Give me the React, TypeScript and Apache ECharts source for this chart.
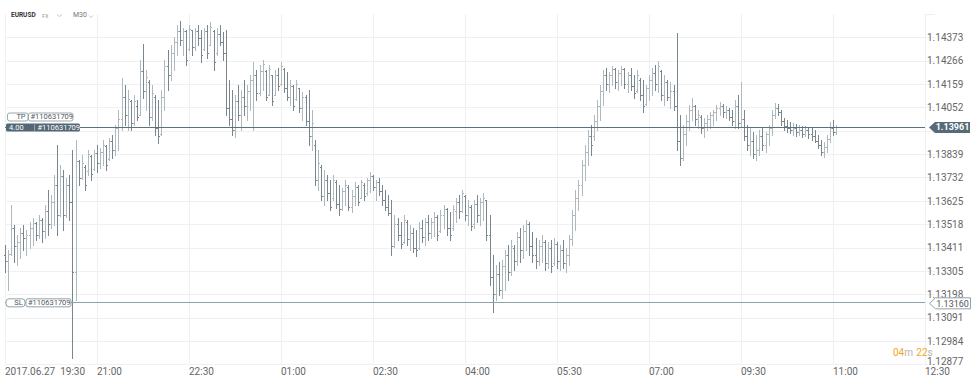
import React, { useEffect, useRef } from 'react';
import * as echarts from 'echarts';

const SYMBOL = 'EURUSD';
const MARKET = 'FX';
const PERIOD = 'M30';
const xTickLabels = ['2017.06.27  19:30', '21:00', '22:30', '01:00', '02:30', '04:00', '05:30', '07:00', '09:30', '11:00', '12:30'];
const BARS_PER_TICK = 30;
const yTickLabels = ['1.12877', '1.12984', '1.13091', '1.13198', '1.13305', '1.13411', '1.13518', '1.13625', '1.13732', '1.13839', '1.13945', '1.14052', '1.14159', '1.14266', '1.14373'];
const Y_BASE = 1.128774;
const Y_STEP = 0.00106805;

const opens = [
  1.1338,1.1335,1.13385,1.135,1.1342,1.1344,1.1348,1.13455,1.1347,1.135,
  1.13525,1.1347,1.1354,1.1349,1.1358,1.1352,1.1362,1.137,1.1356,1.1374,
  1.1356,1.137,1.1362,1.133,1.1381,1.1373,1.1378,1.1376,1.1383,1.1377,
  1.13845,1.138,1.1385,1.13875,1.13815,1.139,1.1386,1.1396,1.14,1.141,
  1.1402,1.1408,1.1398,1.1406,1.1402,1.1422,1.1413,1.1417,1.1401,1.141,
  1.1396,1.1393,1.141,1.1424,1.142,1.143,1.1435,1.144,1.1436,1.144,
  1.1432,1.14405,1.1433,1.144,1.1437,1.1432,1.144,1.1434,1.144,1.143,
  1.1439,1.1435,1.143,1.1405,1.14,1.1395,1.1408,1.1402,1.141,1.1406,
  1.1413,1.1418,1.142,1.1412,1.1422,1.1422,1.1411,1.142,1.1411,1.142,
  1.1416,1.1423,1.1414,1.141,1.1415,1.1409,1.1414,1.1405,1.141,1.1399,
  1.1392,1.1388,1.1372,1.1378,1.1365,1.1372,1.1366,1.1364,1.1371,1.1361,
  1.1359,1.1367,1.1369,1.136,1.1365,1.1369,1.1364,1.137,1.1366,1.1372,
  1.1374,1.1369,1.1371,1.1367,1.1363,1.136,1.1357,1.1342,1.1352,1.1347,
  1.1344,1.1353,1.1345,1.1348,1.1341,1.1341,1.135,1.1346,1.1353,1.1348,
  1.1353,1.1355,1.1349,1.1356,1.1359,1.135,1.135,1.1358,1.1362,1.1358,
  1.1365,1.1356,1.136,1.1352,1.1361,1.1356,1.1362,1.1363,1.1347,1.1328,
  1.132,1.1329,1.1322,1.1333,1.1338,1.133,1.1341,1.1335,1.1346,1.134,
  1.1349,1.1352,1.1342,1.1338,1.1335,1.1342,1.1344,1.1334,1.1341,1.1334,
  1.1343,1.1335,1.134,1.1334,1.1338,1.1345,1.1356,1.1364,1.137,1.1379,
  1.1385,1.1392,1.1392,1.1399,1.1406,1.1413,1.142,1.1416,1.142,1.1423,
  1.1417,1.1421,1.1423,1.1416,1.142,1.1415,1.1413,1.1418,1.1411,1.1407,
  1.1414,1.1418,1.1421,1.1416,1.1422,1.1411,1.1417,1.141,1.1413,1.1406,
  1.139,1.1382,1.1393,1.1399,1.1404,1.1406,1.14,1.1401,1.1396,1.1398,
  1.14,1.1402,1.1403,1.1405,1.1406,1.1403,1.1404,1.1401,1.1399,1.1406,
  1.1398,1.14,1.1392,1.1388,1.139,1.1384,1.1386,1.1392,1.1388,1.1393,
  1.1396,1.1402,1.1405,1.1403,1.1399,1.1397,1.1396,1.1395,1.1396,1.1394,
  1.1395,1.1393,1.1395,1.1393,1.1392,1.139,1.1388,1.1385,1.1387,1.1391,
  1.1396,1.1394,
];

const highs = [
  1.13424,1.13401,1.13607,1.13516,1.1347,1.13502,1.13516,1.13493,1.13529,1.13547,
  1.13529,1.13561,1.13547,1.13607,1.13676,1.13653,1.13744,1.13881,1.13789,1.13767,
  1.1373,1.13744,1.13858,1.13904,1.13812,1.13835,1.13789,1.13858,1.13835,1.13858,
  1.13881,1.13867,1.13904,1.13881,1.13913,1.13926,1.13972,1.14041,1.14187,1.14155,
  1.14132,1.14086,1.14109,1.14086,1.14269,1.14342,1.14223,1.14178,1.14155,1.14109,
  1.14086,1.14132,1.14269,1.14315,1.14338,1.14374,1.14429,1.14447,1.14415,1.14406,
  1.14429,1.14406,1.14415,1.14429,1.14406,1.14415,1.14429,1.14443,1.14406,1.14415,
  1.14429,1.14397,1.14406,1.14178,1.14132,1.14109,1.14155,1.14132,1.14178,1.14155,
  1.14201,1.1426,1.14223,1.14246,1.14269,1.14223,1.14246,1.14201,1.14223,1.14232,
  1.1426,1.14232,1.14214,1.14178,1.14155,1.14178,1.14141,1.14123,1.14109,1.14132,
  1.14041,1.13904,1.13858,1.13789,1.13767,1.13744,1.13721,1.13744,1.13721,1.13698,
  1.13685,1.13721,1.13698,1.13676,1.13712,1.13698,1.13721,1.13707,1.1373,1.13758,
  1.13744,1.13721,1.1373,1.13698,1.13676,1.13653,1.1363,1.13561,1.13547,1.13529,
  1.13561,1.13538,1.13516,1.13502,1.13493,1.13529,1.13538,1.13547,1.13561,1.13547,
  1.13575,1.13561,1.13584,1.13607,1.13593,1.13575,1.13607,1.13639,1.13653,1.13676,
  1.13653,1.1363,1.13607,1.1363,1.13653,1.13639,1.13662,1.1363,1.13561,1.13379,
  1.13333,1.13347,1.13356,1.13401,1.13424,1.13447,1.13424,1.13484,1.13502,1.13516,
  1.13538,1.13529,1.13484,1.13456,1.13447,1.1347,1.13447,1.13438,1.13447,1.13456,
  1.13438,1.13424,1.13447,1.1341,1.1347,1.13584,1.13676,1.13721,1.13812,1.13881,
  1.13949,1.13972,1.14018,1.14086,1.14155,1.14223,1.14232,1.14214,1.14241,1.14232,
  1.14223,1.14241,1.14232,1.14214,1.14232,1.14201,1.14223,1.14187,1.14178,1.14155,
  1.14201,1.14232,1.14246,1.14264,1.14223,1.14201,1.14178,1.14169,1.14155,1.14393,
  1.14018,1.13972,1.14018,1.14064,1.14095,1.14064,1.14041,1.14018,1.14004,1.14018,
  1.14032,1.14041,1.14064,1.14077,1.14068,1.14059,1.1405,1.14041,1.14086,1.14109,
  1.14169,1.14041,1.13972,1.13958,1.1394,1.13926,1.13949,1.13958,1.1394,1.13972,
  1.14041,1.14073,1.14068,1.14041,1.14004,1.13995,1.13986,1.13981,1.13976,1.13972,
  1.13967,1.13967,1.13963,1.13958,1.13949,1.13926,1.13904,1.13894,1.13926,1.13986,
  1.13995,1.13972,
];

const lows = [
  1.13301,1.13219,1.13379,1.13347,1.13333,1.13365,1.13401,1.13379,1.1341,1.13424,
  1.13447,1.13456,1.13438,1.13456,1.1347,1.13502,1.13516,1.1347,1.13555,1.13493,
  1.1355,1.13538,1.12908,1.13173,1.13698,1.13725,1.13676,1.13744,1.13721,1.13767,
  1.13758,1.13776,1.13789,1.13767,1.13812,1.13821,1.13835,1.13858,1.13949,1.13972,
  1.13949,1.13949,1.13972,1.13995,1.14018,1.14095,1.14041,1.13972,1.13995,1.13926,
  1.1389,1.13926,1.14041,1.14132,1.14178,1.14223,1.14292,1.14338,1.14292,1.14246,
  1.14315,1.14292,1.14315,1.14338,1.1426,1.14315,1.14278,1.14338,1.14223,1.14292,
  1.14338,1.14269,1.14018,1.13972,1.13926,1.13917,1.13995,1.13949,1.14018,1.13995,
  1.14041,1.13949,1.14086,1.14109,1.14132,1.14086,1.14109,1.14064,1.14109,1.14132,
  1.14155,1.14123,1.14086,1.14064,1.14041,1.14086,1.14032,1.13995,1.13972,1.13881,
  1.13858,1.13698,1.13676,1.1363,1.13607,1.1363,1.13584,1.1363,1.13593,1.13561,
  1.13584,1.13607,1.13584,1.13575,1.13607,1.13607,1.13639,1.1363,1.13653,1.13667,
  1.13676,1.1363,1.13653,1.13607,1.13584,1.13561,1.13379,1.13415,1.13447,1.1341,
  1.13435,1.13424,1.13401,1.13392,1.13374,1.13405,1.13438,1.13424,1.13447,1.13456,
  1.13465,1.13447,1.13484,1.13502,1.1347,1.13447,1.13493,1.13529,1.13547,1.13575,
  1.13538,1.13516,1.13493,1.13502,1.13529,1.13516,1.13538,1.13447,1.13242,1.13118,
  1.13173,1.13196,1.13182,1.13219,1.13264,1.13287,1.1331,1.13333,1.13347,1.13365,
  1.13401,1.13379,1.13347,1.13319,1.13333,1.13347,1.1331,1.13319,1.13301,1.13335,
  1.13319,1.1331,1.13319,1.13301,1.13333,1.13424,1.13493,1.13584,1.13653,1.13721,
  1.13789,1.13835,1.13904,1.13949,1.13995,1.14064,1.14132,1.14123,1.14155,1.14141,
  1.14132,1.14155,1.14141,1.14123,1.14132,1.14095,1.14123,1.14086,1.14032,1.14064,
  1.14086,1.14109,1.14132,1.14123,1.14086,1.14064,1.14086,1.1405,1.14041,1.13858,
  1.13789,1.13812,1.13881,1.13949,1.13995,1.13972,1.13958,1.13935,1.13917,1.13949,
  1.13958,1.13972,1.13995,1.14018,1.14009,1.14004,1.13995,1.13972,1.13958,1.13958,
  1.13963,1.13904,1.13858,1.13835,1.13821,1.13812,1.13835,1.13858,1.13849,1.13881,
  1.13926,1.14004,1.14018,1.13972,1.13949,1.1394,1.13935,1.13926,1.13922,1.13926,
  1.13917,1.13922,1.13913,1.13904,1.13894,1.13867,1.13835,1.13826,1.13849,1.13894,
  1.13926,1.1393,
];

const closes = [
  1.1335,1.13385,1.135,1.1342,1.1344,1.1348,1.13455,1.1347,1.135,1.13525,
  1.1347,1.1354,1.1349,1.1358,1.1352,1.1362,1.137,1.1356,1.1374,1.1356,
  1.137,1.1362,1.133,1.1381,1.1373,1.138,1.137,1.1384,1.1375,1.13845,
  1.138,1.1385,1.1388,1.1379,1.139,1.1386,1.1396,1.14,1.141,1.1402,
  1.1409,1.1398,1.1408,1.1401,1.1422,1.1413,1.1419,1.1401,1.1412,1.1396,
  1.1392,1.141,1.1424,1.142,1.143,1.1435,1.144,1.1436,1.144,1.1427,
  1.1441,1.1433,1.144,1.1437,1.1429,1.144,1.143,1.1442,1.1426,1.1439,
  1.1435,1.143,1.1405,1.14,1.1395,1.1408,1.1402,1.141,1.1406,1.1413,
  1.1418,1.142,1.1412,1.1422,1.1425,1.141,1.1423,1.1408,1.142,1.1415,
  1.1424,1.1414,1.141,1.1415,1.1406,1.1416,1.1405,1.141,1.1399,1.1392,
  1.1398,1.1372,1.138,1.1365,1.1372,1.1366,1.136,1.1372,1.1361,1.1359,
  1.1367,1.137,1.136,1.1365,1.1369,1.1362,1.1371,1.1365,1.1372,1.1374,
  1.1369,1.1371,1.1367,1.1363,1.136,1.1357,1.1342,1.1352,1.1347,1.1343,
  1.1354,1.1345,1.1348,1.1341,1.134,1.135,1.1346,1.1353,1.1348,1.1353,
  1.1355,1.1347,1.1356,1.1359,1.135,1.1347,1.1359,1.1362,1.1358,1.1366,
  1.1356,1.136,1.1351,1.1361,1.1356,1.1362,1.1364,1.1347,1.1328,1.132,
  1.1329,1.1322,1.1333,1.1338,1.133,1.1342,1.1335,1.1346,1.134,1.1349,
  1.1352,1.1342,1.1338,1.1335,1.1342,1.1344,1.1334,1.1341,1.1333,1.1343,
  1.1335,1.134,1.1334,1.1338,1.1345,1.1356,1.1364,1.137,1.1379,1.1385,
  1.1392,1.1388,1.1399,1.1406,1.1413,1.142,1.1416,1.142,1.1423,1.1417,
  1.1421,1.1423,1.1416,1.142,1.1415,1.1412,1.142,1.1411,1.1406,1.1414,
  1.1418,1.1421,1.1416,1.1424,1.1411,1.1417,1.141,1.1413,1.1406,1.139,
  1.1382,1.1393,1.1399,1.1404,1.1406,1.14,1.1402,1.1396,1.1398,1.14,
  1.1402,1.1403,1.1405,1.1406,1.1403,1.1404,1.1401,1.1399,1.1406,1.1398,
  1.14,1.1392,1.1388,1.139,1.1384,1.1386,1.1392,1.1388,1.1393,1.1396,
  1.1402,1.1405,1.1403,1.1399,1.1397,1.1396,1.1395,1.1396,1.1394,1.1395,
  1.1393,1.1395,1.1393,1.1392,1.139,1.1388,1.1385,1.1387,1.1391,1.1396,
  1.1394,1.13961,
];

const positionPrice = 1.13961;
const positionVolume = '4.00';
const orderId = '#110631709';
const slPrice = 1.1316;
const countdownParts = ['04', 'm', '22', 's'];

const UP_COLOR = '#b0b9be';
const DOWN_COLOR = '#7a868d';
const GRID_COLOR = '#eef0f2';
const FONT = 'Roboto, "Noto Sans", sans-serif';

const toU = (p: number) => (p - Y_BASE) / Y_STEP;

const categories: string[] = [];
for (let i = 0; i <= (xTickLabels.length - 1) * BARS_PER_TICK; i++) {
  categories.push(i % BARS_PER_TICK === 0 ? xTickLabels[i / BARS_PER_TICK] : '');
}

const barData = opens.map((o, i) => [i, toU(o), toU(highs[i]), toU(lows[i]), toU(closes[i])]);

const renderItem = (_params: any, api: any) => {
  const i = api.value(0);
  const o = api.value(1);
  const h = api.value(2);
  const l = api.value(3);
  const c = api.value(4);
  const pH = api.coord([i, h]);
  const pL = api.coord([i, l]);
  const pO = api.coord([i, o]);
  const pC = api.coord([i, c]);
  const x = Math.round(pH[0]) + 0.5;
  const color = c >= o ? UP_COLOR : DOWN_COLOR;
  const yo = Math.round(pO[1]) + 0.5;
  const yc = Math.round(pC[1]) + 0.5;
  return {
    type: 'group',
    children: [
      { type: 'line', shape: { x1: x, y1: Math.round(pH[1]), x2: x, y2: Math.round(pL[1]) + 1 }, style: { stroke: color, lineWidth: 1 } },
      { type: 'line', shape: { x1: x - 1.5, y1: yo, x2: x - 0.5, y2: yo }, style: { stroke: color, lineWidth: 1 } },
      { type: 'line', shape: { x1: x + 0.5, y1: yc, x2: x + 1.5, y2: yc }, style: { stroke: color, lineWidth: 1 } },
    ],
  };
};

export default function App() {
  const ref = useRef<HTMLDivElement>(null);

  useEffect(() => {
    if (!ref.current) return;
    const chart = echarts.init(ref.current, null, { renderer: 'svg' });
    const splitColors = yTickLabels.map(() => GRID_COLOR).concat(['rgba(0,0,0,0)']);
    const currentU = toU(closes[closes.length - 1]);
    chart.setOption({
      animation: false,
      backgroundColor: '#ffffff',
      grid: { left: 5, right: 54, top: 14, bottom: 18.3, containLabel: false },
      xAxis: {
        type: 'category',
        data: categories,
        boundaryGap: false,
        axisLine: { show: false },
        axisTick: { show: false },
        axisLabel: { interval: BARS_PER_TICK - 1, align: 'left', margin: 2, fontSize: 10, color: '#666', fontFamily: FONT },
        splitLine: { show: true, interval: BARS_PER_TICK - 1, lineStyle: { color: GRID_COLOR, width: 1 } },
      },
      yAxis: {
        type: 'value',
        position: 'right',
        min: 0,
        max: 15,
        interval: 1,
        axisLine: { show: false },
        axisTick: { show: true, length: 10, lineStyle: { color: GRID_COLOR } },
        axisLabel: {
          margin: 2,
          fontSize: 10,
          lineHeight: 10,
          color: '#666',
          fontFamily: FONT,
          formatter: (v: number) => {
            const k = Math.round(v);
            const t = yTickLabels[k];
            if (!t) return '';
            if (Math.abs(k - currentU) < 0.5) return '';
            return k === 0 ? '{lo|' + t + '}' : t;
          },
          rich: { lo: { padding: [0, 0, 6, 0], fontSize: 10, lineHeight: 10, color: '#666', fontFamily: FONT } },
        },
        splitLine: { show: true, lineStyle: { color: splitColors, width: 1 } },
      },
      series: [
        {
          type: 'custom',
          renderItem,
          data: barData,
          encode: { x: 0, y: [1, 2, 3, 4] },
          clip: false,
          silent: true,
        },
        {
          type: 'line',
          data: [],
          silent: true,
          markLine: {
            silent: true,
            symbol: ['none', 'none'],
            label: { show: false },
            data: [
              { yAxis: toU(positionPrice), lineStyle: { color: '#5d717c', width: 1, type: 'solid' } },
              { yAxis: toU(slPrice), lineStyle: { color: '#8ea2ac', width: 1, type: 'solid' } },
            ],
          },
        },
      ],
    });

    const yTP = chart.convertToPixel({ yAxisIndex: 0 }, toU(positionPrice)) as number;
    const ySL = chart.convertToPixel({ yAxisIndex: 0 }, toU(slPrice)) as number;
    const xEnd = chart.convertToPixel({ xAxisIndex: 0 }, categories.length - 1) as number;

    const tagPoints = [[0, 0], [6, -5.5], [41, -5.5], [41, 5.5], [6, 5.5]];
    const smallFont = { fontSize: 7.5, fontFamily: FONT };

    chart.setOption({
      graphic: [
        // header
        { type: 'text', x: 11, y: 15, style: { text: SYMBOL, fill: '#333', fontSize: 6.5, fontWeight: 'bold', fontFamily: FONT, verticalAlign: 'middle' } },
        { type: 'text', x: 42, y: 15.5, style: { text: MARKET, fill: '#9a9a9a', fontSize: 5.5, fontFamily: FONT, verticalAlign: 'middle' } },
        { type: 'polyline', shape: { points: [[57, 14.5], [59.5, 16.5], [62, 14.5]] }, style: { stroke: '#c8c8c8', lineWidth: 1, fill: 'none' } },
        { type: 'text', x: 73, y: 15, style: { text: PERIOD, fill: '#777', fontSize: 7, fontFamily: FONT, verticalAlign: 'middle' } },
        { type: 'polyline', shape: { points: [[89, 15.5], [91, 17.5], [93, 15.5]] }, style: { stroke: '#c8c8c8', lineWidth: 1, fill: 'none' } },
        // TP labels (left)
        { type: 'rect', shape: { x: 7.5, y: yTP - 14.5, width: 20.5, height: 8, r: 2 }, style: { fill: '#fff', stroke: '#98a9b1', lineWidth: 1 }, z: 10 },
        { type: 'text', x: 21, y: yTP - 10.5, style: { text: 'TP', fill: '#555', align: 'center', verticalAlign: 'middle', ...smallFont }, z: 11 },
        { type: 'rect', shape: { x: 28.5, y: yTP - 14.5, width: 44.5, height: 8, r: 2 }, style: { fill: '#fff', stroke: '#98a9b1', lineWidth: 1 }, z: 10 },
        { type: 'text', x: 30.5, y: yTP - 10.5, style: { text: orderId, fill: '#555', align: 'left', verticalAlign: 'middle', ...smallFont }, z: 11 },
        // position label
        { type: 'rect', shape: { x: 6, y: yTP - 4, width: 74, height: 8, r: 1.5 }, style: { fill: '#536874' }, z: 10 },
        { type: 'line', shape: { x1: 34.5, y1: yTP - 4, x2: 34.5, y2: yTP + 4 }, style: { stroke: '#8fa1aa', lineWidth: 1 }, z: 11 },
        { type: 'text', x: 9, y: yTP, style: { text: positionVolume, fill: '#fff', align: 'left', verticalAlign: 'middle', ...smallFont }, z: 11 },
        { type: 'text', x: 37.5, y: yTP, style: { text: orderId, fill: '#fff', align: 'left', verticalAlign: 'middle', ...smallFont }, z: 11 },
        // SL labels (left)
        { type: 'rect', shape: { x: 6, y: ySL - 4, width: 19, height: 8, r: 3 }, style: { fill: '#fff', stroke: '#8ea2ac', lineWidth: 1 }, z: 10 },
        { type: 'text', x: 18.5, y: ySL, style: { text: 'SL', fill: '#555', align: 'center', verticalAlign: 'middle', ...smallFont }, z: 11 },
        { type: 'rect', shape: { x: 26, y: ySL - 4, width: 45, height: 8, r: 2 }, style: { fill: '#fff', stroke: '#8ea2ac', lineWidth: 1 }, z: 10 },
        { type: 'text', x: 28, y: ySL, style: { text: orderId, fill: '#555', align: 'left', verticalAlign: 'middle', ...smallFont }, z: 11 },
        // right price tags
        { type: 'polygon', x: xEnd + 4, y: yTP, shape: { points: tagPoints }, style: { fill: '#566b77' }, z: 20 },
        { type: 'text', x: xEnd + 27.5, y: yTP, style: { text: positionPrice.toFixed(5), fill: '#fff', align: 'center', verticalAlign: 'middle', fontSize: 9, lineHeight: 9, fontWeight: 'bold', fontFamily: FONT }, z: 21 },
        { type: 'polygon', x: xEnd + 4.5, y: ySL + 0.5, shape: { points: tagPoints }, style: { fill: '#fff', stroke: '#8ea2ac', lineWidth: 1 }, z: 20 },
        { type: 'text', x: xEnd + 27.5, y: ySL + 1.5, style: { text: slPrice.toFixed(5), fill: '#555', align: 'center', verticalAlign: 'middle', fontSize: 9, lineHeight: 9, fontFamily: FONT }, z: 21 },
        // countdown
        {
          type: 'text', x: 893, y: 352, z: 21,
          style: {
            text: '{o|' + countdownParts[0] + '}{g|' + countdownParts[1] + '} {o|' + countdownParts[2] + '}{g|' + countdownParts[3] + '}',
            verticalAlign: 'middle',
            rich: {
              o: { fill: '#f5a623', fontSize: 10, lineHeight: 10, fontFamily: FONT },
              g: { fill: '#b3b3b3', fontSize: 10, lineHeight: 10, fontFamily: FONT },
            },
          },
        },
      ],
    });

    return () => chart.dispose();
  }, []);

  return <div ref={ref} style={{ position: 'fixed', left: 0, top: 0, width: 979, height: 383, background: '#fff' }} />;
}
